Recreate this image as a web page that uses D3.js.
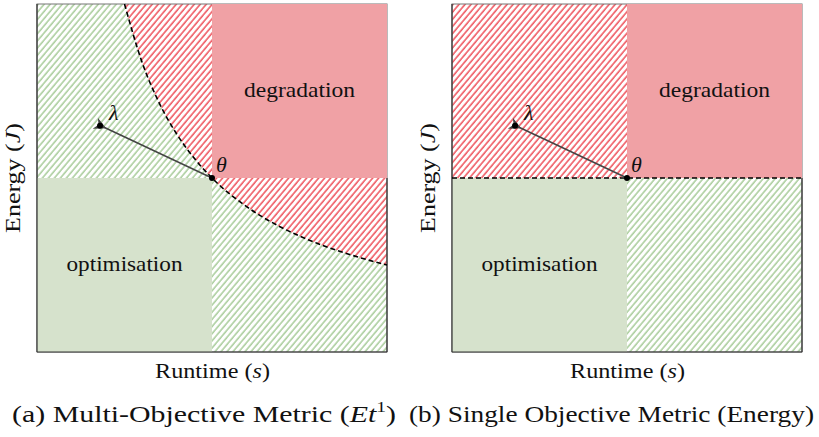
<!DOCTYPE html>
<html><head><meta charset="utf-8">
<script src="https://cdn.jsdelivr.net/npm/d3@7"></script>
<style>body{margin:0;background:#fff}svg{display:block}
svg text{font-family:"Liberation Serif","Times New Roman",Tinos !important}</style>
</head><body>
<svg id="c" width="819" height="437"></svg>
<script>
// ---- data ----
const panelIds = ["a", "b"];
const captions = ["(a) Multi-Objective Metric (", "(b) Single Objective Metric (Energy)"];
const xLabel = ["Runtime (", "s", ")"];
const yLabel = ["Energy (", "J", ")"];
const regionLabels = ["degradation", "optimisation"];
const theta = [0.5, 0.5];          // [runtime, energy]
const lambda = [0.18, 0.65];
// left panel iso-metric boundary (E*t^1 = const)
const curveT = [0.25, 0.3, 0.35, 0.4, 0.45, 0.5, 0.6, 0.7, 0.8, 0.9, 1.0];
const curveE = [1.0, 0.833, 0.714, 0.625, 0.556, 0.5, 0.417, 0.357, 0.3125, 0.278, 0.25];
// right panel boundary (energy only)
const flatT = [0, 1];
const flatE = [0.5, 0.5];

const svg = d3.select("#c");
const W = 350, H = 348;
const origins = [[37, 4], [452, 4]];
const x = d3.scaleLinear().domain([0, 1]).range([0, W]);
const y = d3.scaleLinear().domain([0, 1]).range([H, 0]);

const defs = svg.append("defs");
function hatch(id, color) {
  const p = defs.append("pattern").attr("id", id).attr("patternUnits", "userSpaceOnUse")
    .attr("width", 4.6).attr("height", 10).attr("patternTransform", "rotate(40)");
  p.append("line").attr("x1", 1).attr("y1", -1).attr("x2", 1).attr("y2", 11)
    .attr("stroke", color).attr("stroke-width", 1.1);
}
hatch("hg", "#86b874");
hatch("hr", "#e8101c");
defs.append("marker").attr("id", "arr").attr("viewBox", "0 0 10 10").attr("refX", 2).attr("refY", 5)
  .attr("markerWidth", 8).attr("markerHeight", 8).attr("orient", "auto")
  .append("path").attr("d", "M0,5 L10,0 L7,5 L10,10 Z").attr("fill", "#444");

const line = d3.line().curve(d3.curveMonotoneX);
function txt(sel, size) {
  return sel.append("text").attr("font-size", size).attr("fill", "#111");
}

panelIds.forEach((pid, i) => {
  const g = svg.append("g").attr("transform", `translate(${origins[i][0]},${origins[i][1]})`);
  const bT = i === 0 ? curveT : flatT;
  const bE = i === 0 ? curveE : flatE;
  const pts = bT.map((t, k) => [x(t), y(bE[k])]);
  g.append("rect").attr("x", 0).attr("y", 0).attr("width", W).attr("height", H).attr("fill", "url(#hg)");
  const abovePath = line(pts) + `L${x(1)},${y(1)}L${x(bT[0])},${y(1)}Z`;
  g.append("path").attr("d", abovePath).attr("fill", "#fff");
  g.append("path").attr("d", abovePath).attr("fill", "url(#hr)");
  g.append("rect").attr("x", 0).attr("y", 0).attr("width", W).attr("height", H)
    .attr("fill", "none").attr("stroke", "#777").attr("stroke-width", 1);
  g.append("rect").attr("x", x(theta[0])).attr("y", y(1)).attr("width", x(1) - x(theta[0]))
    .attr("height", y(theta[1]) - y(1)).attr("fill", "#f0a1a5");
  g.append("rect").attr("x", x(0)).attr("y", y(theta[1])).attr("width", x(theta[0]) - x(0))
    .attr("height", y(0) - y(theta[1])).attr("fill", "#d6e2cc");
  g.append("line").attr("x1", 0).attr("y1", 0).attr("x2", 0).attr("y2", H).attr("stroke", "#333").attr("stroke-width", 1.2);
  g.append("line").attr("x1", 0).attr("y1", H).attr("x2", W).attr("y2", H).attr("stroke", "#333").attr("stroke-width", 1.2);
  g.append("line").attr("x1", W).attr("y1", y(theta[1])).attr("x2", W).attr("y2", H).attr("stroke", "#333").attr("stroke-width", 1.2);
  g.append("path").attr("d", line(pts)).attr("fill", "none")
    .attr("stroke", "#000").attr("stroke-width", 1.6).attr("stroke-dasharray", "5,3");
  g.append("line").attr("x1", x(theta[0])).attr("y1", y(theta[1]))
    .attr("x2", x(lambda[0]) + 4).attr("y2", y(lambda[1]) + 1.5)
    .attr("stroke", "#444").attr("stroke-width", 1.5).attr("marker-end", "url(#arr)");
  g.append("circle").attr("cx", x(theta[0])).attr("cy", y(theta[1])).attr("r", 3).attr("fill", "#000");
  g.append("circle").attr("cx", x(lambda[0])).attr("cy", y(lambda[1])).attr("r", 3).attr("fill", "#000");
  txt(g, 22).attr("x", x(theta[0]) + 4).attr("y", y(theta[1]) - 6).attr("font-style", "italic").text("θ");
  txt(g, 22).attr("x", x(lambda[0]) + 9).attr("y", y(lambda[1]) - 6).attr("font-style", "italic").text("λ");
  txt(g, 21).attr("x", x(0.75)).attr("y", y(0.75) + 6).attr("text-anchor", "middle")
    .attr("textLength", 111).attr("lengthAdjust", "spacingAndGlyphs").text(regionLabels[0]);
  txt(g, 21).attr("x", x(0.25)).attr("y", y(0.25) + 6).attr("text-anchor", "middle")
    .attr("textLength", 116).attr("lengthAdjust", "spacingAndGlyphs").text(regionLabels[1]);
  const xl = txt(g, 21).attr("x", W / 2 - 57).attr("y", H + 26).attr("textLength", 115)
    .attr("lengthAdjust", "spacingAndGlyphs");
  xl.append("tspan").text(xLabel[0]);
  xl.append("tspan").attr("font-style", "italic").text(xLabel[1]);
  xl.append("tspan").text(xLabel[2]);
  const yl = txt(g, 21).attr("transform", `translate(-17,${H / 2 + 55}) rotate(-90)`).attr("textLength", 110)
    .attr("lengthAdjust", "spacingAndGlyphs");
  yl.append("tspan").text(yLabel[0]);
  yl.append("tspan").attr("font-style", "italic").text(yLabel[1]);
  yl.append("tspan").text(yLabel[2]);
  const cap = txt(svg, 23).attr("x", i === 0 ? 12 : 409).attr("y", 422)
    .attr("textLength", i === 0 ? 384 : 405).attr("lengthAdjust", "spacingAndGlyphs");
  cap.append("tspan").text(captions[i]);
  if (i === 0) {
    cap.append("tspan").attr("font-style", "italic").text("Et");
    cap.append("tspan").attr("font-size", 15).attr("dy", -10).text("1");
    cap.append("tspan").attr("dy", 10).text(")");
  }
});
</script>
</body></html>
